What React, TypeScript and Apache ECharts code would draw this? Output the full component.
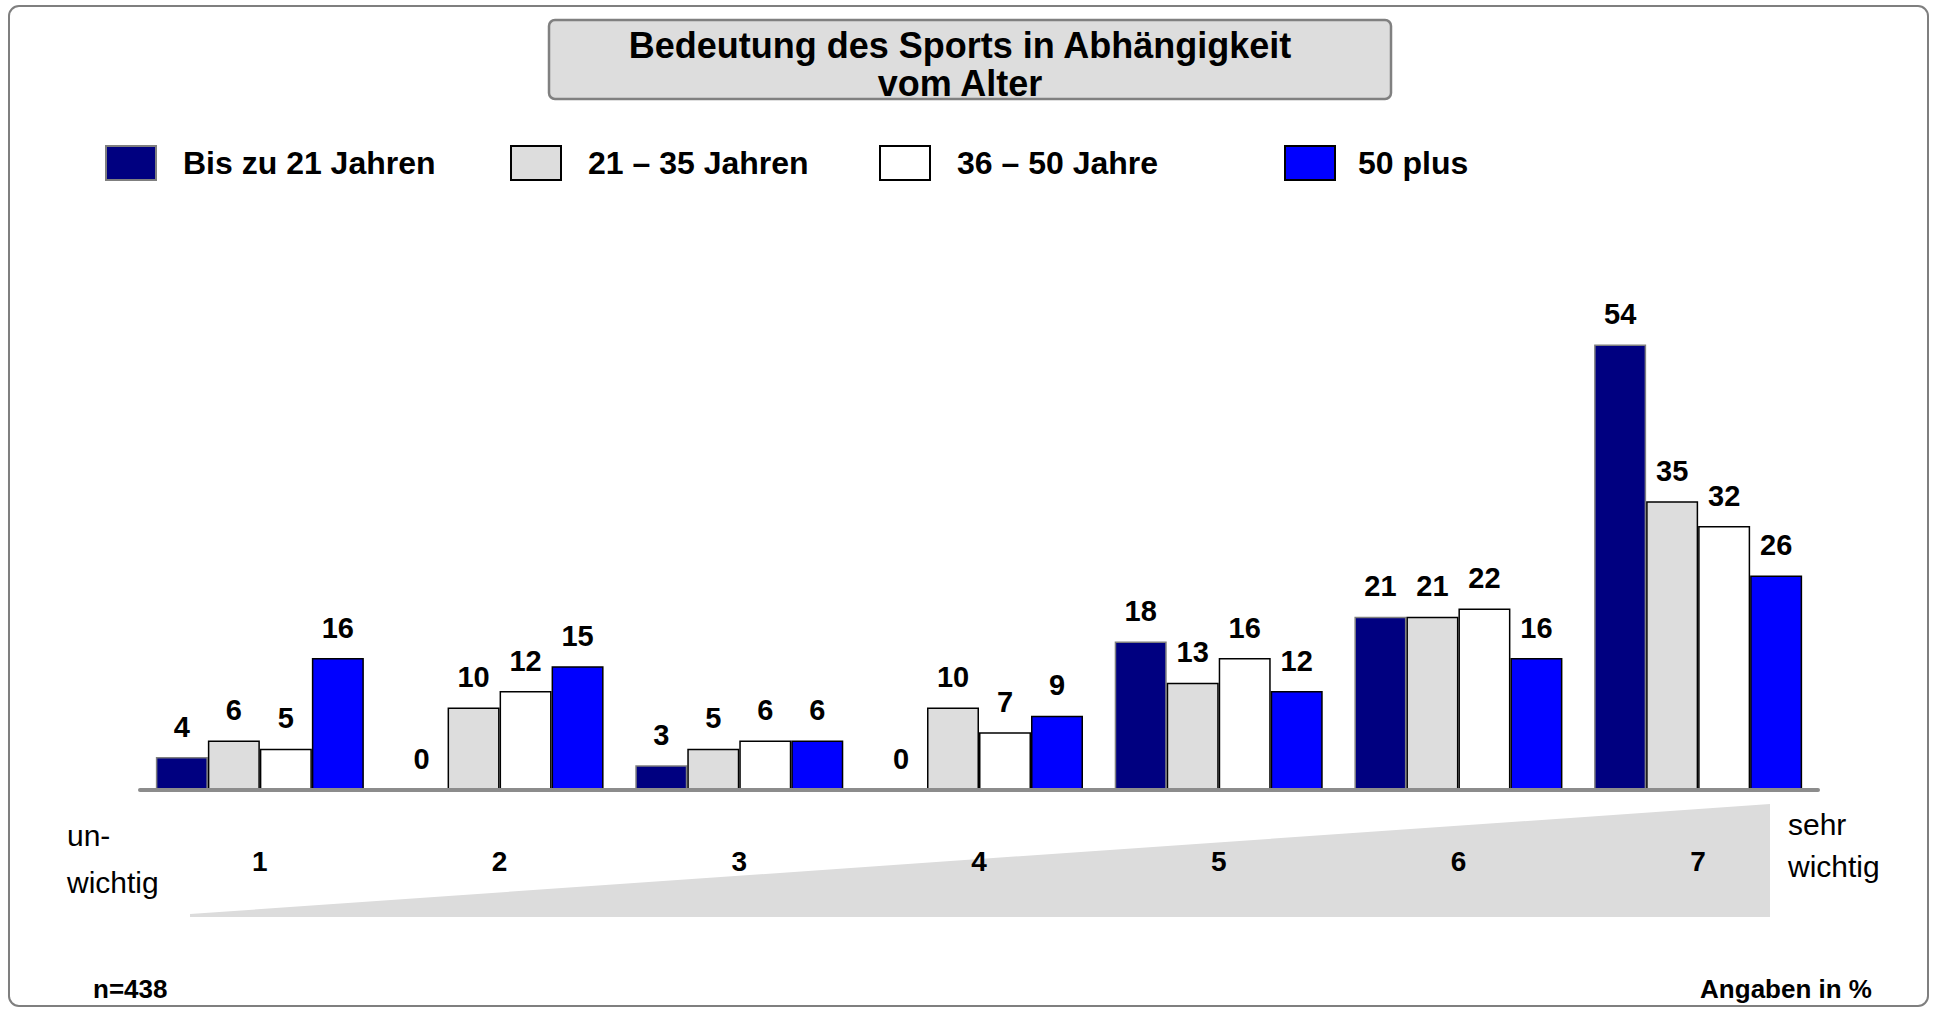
import React, { useEffect, useRef } from "react";
import * as echarts from "echarts";

const categories = ["1", "2", "3", "4", "5", "6", "7"];
const seriesNames = ["Bis zu 21 Jahren", "21 – 35 Jahren", "36 – 50 Jahre", "50 plus"];
const bis21 = [4, 0, 3, 0, 18, 21, 54];
const j21to35 = [6, 10, 5, 10, 13, 21, 35];
const j36to50 = [5, 12, 6, 7, 16, 22, 32];
const plus50 = [16, 15, 6, 9, 12, 16, 26];
const titleText = "Bedeutung des Sports in Abhängigkeit\nvom Alter";

const FONT = "'Liberation Sans', Arial, Helvetica, sans-serif";

export default function App() {
  const ref = useRef<HTMLDivElement>(null);
  useEffect(() => {
    if (!ref.current) return;
    const chart = echarts.init(ref.current, null, { renderer: "svg" });
    const fills = ["#000080", "#DDDDDD", "#FFFFFF", "#0000FF"];
    const borders = ["#7f7f7f", "#000000", "#000000", "#000000"];
    const datasets = [bis21, j21to35, j36to50, plus50];
    const legendLefts = [105, 510, 879, 1284];

    const series = datasets.map((d, i) => ({
      name: seriesNames[i],
      type: "bar",
      data: d,
      barWidth: 52,
      barGap: "0%",
      itemStyle: { color: fills[i], borderColor: borders[i], borderWidth: 1.5 },
      label: {
        show: true,
        position: "top",
        distance: 16,
        fontSize: 29,
        fontWeight: "bold",
        fontFamily: FONT,
        color: "#000",
      },
    }));

    const legends = seriesNames.map((n, i) => ({
      data: [n],
      left: legendLefts[i],
      top: 145,
      padding: 0,
      itemWidth: 50,
      itemHeight: 34,
      selectedMode: false,
      icon: "rect",
      textStyle: {
        fontSize: 32,
        fontWeight: "bold",
        fontFamily: FONT,
        color: "#000",
        padding: [0, 0, 0, i === 3 ? 18 : 22],
      },
    }));

    chart.setOption({
      animation: false,
      backgroundColor: "#ffffff",
      title: {
        text: titleText,
        left: 960,
        textAlign: "center",
        top: 26,
        padding: 0,
        textStyle: {
          fontSize: 36,
          lineHeight: 38,
          fontWeight: "bold",
          fontFamily: FONT,
          color: "#000",
        },
        z: 10,
      },
      legend: legends,
      grid: { left: 140, right: 116, top: 295, bottom: 219 },
      xAxis: {
        type: "category",
        data: categories,
        axisLine: { show: true, lineStyle: { color: "#8c8c8c", width: 4 } },
        axisTick: { show: false },
        axisLabel: {
          margin: 57,
          fontSize: 28,
          fontWeight: "bold",
          fontFamily: FONT,
          color: "#000",
        },
        z: 5,
      },
      yAxis: {
        type: "value",
        min: 0,
        max: 60,
        show: false,
        splitLine: { show: false },
      },
      graphic: [
        {
          type: "rect",
          z: -10,
          shape: { x: 9, y: 6, width: 1919, height: 1000, r: 10 },
          style: { fill: "#ffffff", stroke: "#7f7f7f", lineWidth: 2 },
        },
        {
          type: "rect",
          z: -5,
          shape: { x: 549, y: 20, width: 842, height: 79, r: 6 },
          style: { fill: "#DDDDDD", stroke: "#808080", lineWidth: 2.5 },
        },
        {
          type: "polygon",
          z: -5,
          shape: { points: [[190, 914], [1770, 804], [1770, 917], [190, 917]] },
          style: { fill: "#DCDCDC" },
        },
        {
          type: "text",
          x: 67,
          y: 835,
          style: { text: "un-", fontSize: 30, fontFamily: FONT, fill: "#000", verticalAlign: "middle", align: "left" },
        },
        {
          type: "text",
          x: 67,
          y: 882,
          style: { text: "wichtig", fontSize: 30, fontFamily: FONT, fill: "#000", verticalAlign: "middle", align: "left" },
        },
        {
          type: "text",
          x: 1788,
          y: 824,
          style: { text: "sehr", fontSize: 30, fontFamily: FONT, fill: "#000", verticalAlign: "middle", align: "left" },
        },
        {
          type: "text",
          x: 1788,
          y: 866,
          style: { text: "wichtig", fontSize: 30, fontFamily: FONT, fill: "#000", verticalAlign: "middle", align: "left" },
        },
        {
          type: "text",
          x: 93,
          y: 989,
          style: { text: "n=438", fontSize: 26, fontWeight: "bold", fontFamily: FONT, fill: "#000", verticalAlign: "middle", align: "left" },
        },
        {
          type: "text",
          x: 1872,
          y: 989,
          style: { text: "Angaben in %", fontSize: 26, fontWeight: "bold", fontFamily: FONT, fill: "#000", verticalAlign: "middle", align: "right" },
        },
      ],
      series,
    });
    return () => chart.dispose();
  }, []);
  return (
    <div
      ref={ref}
      style={{ position: "fixed", left: 0, top: 0, width: 1934, height: 1009, background: "#fff" }}
    />
  );
}
